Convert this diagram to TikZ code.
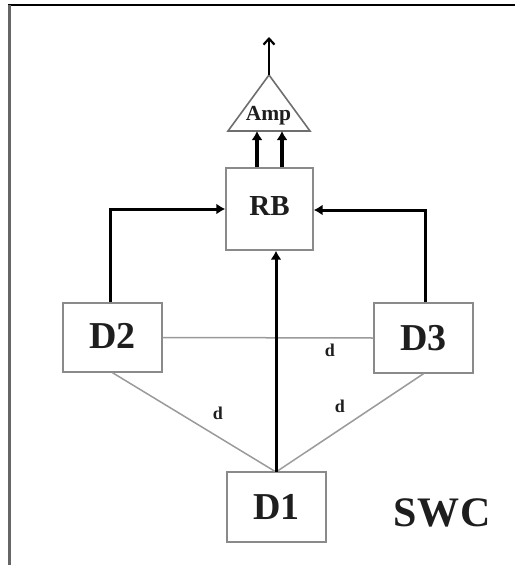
\documentclass[tikz,border=0pt]{standalone}
\usepackage{fontspec}
\setmainfont{Liberation Serif}
\usetikzlibrary{arrows.meta}
\definecolor{boxgray}{HTML}{8A8A8A}
\definecolor{linegray}{HTML}{9A9A9A}
\definecolor{txt}{HTML}{1E1E1E}
\begin{document}
\begin{tikzpicture}[x=1pt,y=-1pt,
  blockbox/.style={draw=boxgray,line width=1.4pt,fill=white,inner sep=0pt,text=txt,font=\bfseries\fontsize{38}{38}\selectfont},
  thin link/.style={draw=linegray,line width=1.5pt},
  thick link/.style={draw=black,line width=3pt},
  side arrow/.style={thick link,-{Latex[length=9pt,width=11pt]}},
  up arrow/.style={thick link,line width=3.6pt,-{Latex[length=9pt,width=11pt]}},
  lbl/.style={text=txt,font=\bfseries\fontsize{18}{18}\selectfont,inner sep=0pt}]
\useasboundingbox (0,0) rectangle (515,565);
% frame
\draw[black,line width=2pt] (8,5) -- (515,5);
\draw[gray!80!black,line width=2.4pt] (9.5,4.5) -- (9.5,565);

% amplifier
\coordinate (apex) at (269,75);
\coordinate (bl) at (228,131);
\coordinate (br) at (310,131);
\coordinate (out) at (269,37);
\draw[draw=boxgray!80!black,line width=1.6pt,line join=miter] (apex) -- (br) -- (bl) -- cycle;
\node[text=txt,font=\bfseries\fontsize{21.5}{21.5}\selectfont,inner sep=0pt] (amp) at (268.5,116) {Amp};
\draw[thick link,line width=2.4pt,-{Straight Barb[length=6pt,width=11pt,line width=2.2pt]}] (apex) -- (out);

% blocks
\node[blockbox,minimum width=87pt,minimum height=82pt,font=\bfseries\fontsize{29}{29}\selectfont] (RB) at (269.5,209) {\raisebox{5pt}{RB}};
\node[blockbox,minimum width=99pt,minimum height=69pt] (D2) at (112.5,337.5) {\raisebox{3pt}{D2}};
\node[blockbox,minimum width=99pt,minimum height=70pt] (D3) at (423.5,338) {\raisebox{-3pt}{D3}};
\node[blockbox,minimum width=99pt,minimum height=70pt] (D1) at (276.5,507) {D1};

% RB to amp
\coordinate (a1) at (257,131);
\coordinate (a2) at (282,131);
\draw[up arrow] (RB.north -| a1) -- (a1);
\draw[up arrow] (RB.north -| a2) -- (a2);

% thin distance links
\coordinate (d1top) at (276,472);
\draw[thin link] (D2.east) -- (D3.west);
\draw[thin link] (D2.south) -- (d1top);
\draw[thin link] (D3.south) -- (d1top);

% feedback arrows into RB
\coordinate (lc) at (110,209);
\coordinate (rc) at (425,210);
\draw[side arrow] (D2.north -| lc) -- (lc) -- (RB.west |- lc);
\draw[side arrow] (D3.north -| rc) -- (rc) -- (RB.east |- rc);
\draw[side arrow] (d1top) -- (RB.south -| d1top);

% labels
\node[lbl] (dh) at (330,350) {d};
\node[lbl] (dl) at (218,413) {d};
\node[lbl] (dr) at (340,406) {d};
\node[text=txt,font=\bfseries\fontsize{42}{42}\selectfont,inner sep=0pt] (swc) at (442,513) {S\kern1pt W\kern1pt C};
\end{tikzpicture}
\end{document}
